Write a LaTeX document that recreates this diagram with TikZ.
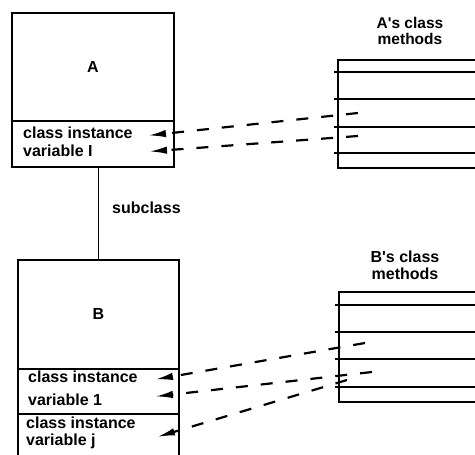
\documentclass[tikz,border=0pt]{standalone}
\usepackage{fontspec}
\setmainfont{Liberation Sans}
\usetikzlibrary{arrows.meta}
\begin{document}
\begin{tikzpicture}[x=1pt,y=-1pt,
  box/.style={draw, line width=1.6pt, rectangle, inner sep=0pt, anchor=north west},
  lbl/.style={inner sep=0pt, anchor=base west, font=\fontsize{16}{18}\selectfont\bfseries},
  rowline/.style={line width=1.6pt},
  link/.style={line width=2.2pt, dash pattern=on 12pt off 13pt, -{Latex[length=18pt,width=7.5pt]}},
  solidlink/.style={line width=1.4pt}]
\useasboundingbox (0,0) rectangle (475,455);
% class A
\node[box, minimum width=162pt, minimum height=108pt] (Atop) at (11,12) {};
\node[font=\fontsize{16}{18}\selectfont\bfseries, inner sep=0pt] (Aname) at (Atop.center) {A};
\node[box, minimum width=162pt, minimum height=46pt] (Avar) at (11,120) {};
\node[lbl] (Av1) at (23,138) {class instance};
\node[lbl] (Av2) at (23,156) {variable I};
% class B
\node[box, minimum width=161pt, minimum height=109pt] (Btop) at (17,259) {};
\node[font=\fontsize{16}{18}\selectfont\bfseries, inner sep=0pt] (Bname) at (Btop.center) {B};
\node[box, minimum width=161pt, minimum height=45pt] (Bvar) at (17,368) {};
\node[box, minimum width=161pt, minimum height=50pt] (Bvar2) at (17,413) {};
\node[lbl] (Bv1) at (28,382) {class instance};
\node[lbl] (Bv2) at (28,405) {variable 1};
\node[lbl] (Bv3) at (26,428) {class instance};
\node[lbl] (Bv4) at (26,445) {variable j};
% subclass link
\draw[solidlink] (Btop.north) -- (Btop.north |- Avar.south);
\node[lbl] (sub) at (112,213) {subclass};
% A's methods
\node[inner sep=0pt, align=center, font=\fontsize{15.5}{16}\selectfont\bfseries] (Amt) at (410,30.5) {A\textquotesingle s class\\methods};
\node[box, minimum width=160pt, minimum height=108pt] (Am) at (337,59) {};
\foreach \y in {72,99,127,153} \draw[rowline] (334,\y) -- (490,\y);
% B's methods
\node[inner sep=0pt, align=center, font=\fontsize{16}{17}\selectfont\bfseries] (Bmt) at (405,265.7) {B\textquotesingle s class\\methods};
\node[box, minimum width=160pt, minimum height=110pt] (Bm) at (338,291) {};
\foreach \y in {305,332,359,387} \draw[rowline] (335,\y) -- (490,\y);
% link end points
\coordinate (mA1) at (358,113);
\coordinate (mA2) at (358,136);
\coordinate (tA1) at (148,135.5);
\coordinate (tA2) at (149,151.5);
\coordinate (mB1) at (365,343);
\coordinate (mB2) at (372,372);
\coordinate (mB3) at (347,380);
\coordinate (tB1) at (155,379.5);
\coordinate (tB2) at (155,396.5);
\coordinate (tB3) at (157,437);
\draw[link] (mA1) -- (tA1);
\draw[link] (mA2) -- (tA2);
\draw[link] (mB1) -- (tB1);
\draw[link] (mB2) -- (tB2);
\draw[link] (mB3) -- (tB3);
\end{tikzpicture}
\end{document}
